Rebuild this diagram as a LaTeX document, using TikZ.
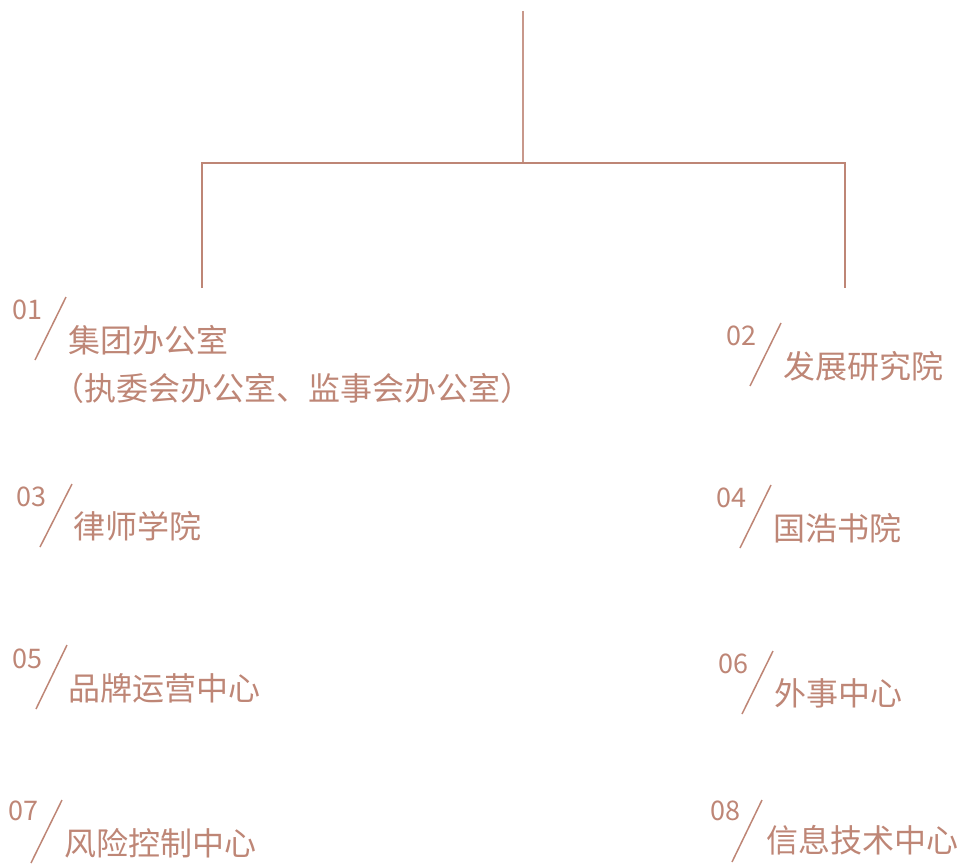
\documentclass[tikz,border=0pt]{standalone}
\usepackage{fontspec}
\newfontfamily\cjk{Noto Sans CJK SC}
\newfontfamily\cjkhalf[RawFeature=+halt]{Noto Sans CJK SC}
\definecolor{rose}{RGB}{190,134,118}
\begin{document}
\begin{tikzpicture}[x=1pt,y=-1pt,
  num/.style={anchor=east,inner sep=0,text=rose,font=\cjk\fontsize{27}{27}\selectfont},
  unit/.style={anchor=base west,inner sep=0,text=rose,align=left,font=\cjk\fontsize{32}{48}\selectfont},
  slash/.style={draw=rose,line width=1.5pt}]
\useasboundingbox (0,0) rectangle (960,864);

% bracket
\coordinate (top) at (523,11);
\coordinate (hub) at (523,163);
\coordinate (lend) at (202,288);
\coordinate (rend) at (845,288);
\path [-,draw=rose!85,line width=1.2pt] (top) edge (hub);
\draw [rose,line width=2.7pt] (lend) -- (lend |- hub) -- (rend |- hub) -- (rend);

% left column
\node[num] (n1) at (43,310) {01};
\coordinate (a1) at (66,297); \coordinate (b1) at (35,360);
\node[unit] (u1) at (68,400) {集团办公室\\{\cjkhalf （}执委会办公室、监事会办公室{\cjkhalf ）}};

\node[num] (n3) at (47,497) {03};
\coordinate (a3) at (72,484); \coordinate (b3) at (40,547);
\node[unit] (u3) at (73,538) {律师学院};

\node[num] (n5) at (43,659) {05};
\coordinate (a5) at (67,645); \coordinate (b5) at (36,709);
\node[unit] (u5) at (68,700) {品牌运营中心};

\node[num] (n7) at (39,811) {07};
\coordinate (a7) at (62,800); \coordinate (b7) at (31,863);
\node[unit] (u7) at (64,855) {风险控制中心};

% right column
\node[num] (n2) at (757,336) {02};
\coordinate (a2) at (781,323); \coordinate (b2) at (750,386);
\node[unit] (u2) at (783,378) {发展研究院};

\node[num] (n4) at (747,498) {04};
\coordinate (a4) at (771,485); \coordinate (b4) at (740,548);
\node[unit] (u4) at (773,540) {国浩书院};

\node[num] (n6) at (749,664) {06};
\coordinate (a6) at (773,651); \coordinate (b6) at (742,714);
\node[unit] (u6) at (774,705) {外事中心};

\node[num] (n8) at (741,811) {08};
\coordinate (a8) at (762,800); \coordinate (b8) at (732,862);
\node[unit] (u8) at (766,852) {信息技术中心};

\path [slash] (a1) edge (b1);
\path [slash] (a2) edge (b2);
\path [slash] (a3) edge (b3);
\path [slash] (a4) edge (b4);
\path [slash] (a5) edge (b5);
\path [slash] (a6) edge (b6);
\path [slash] (a7) edge (b7);
\path [slash] (a8) edge (b8);
\end{tikzpicture}
\end{document}
